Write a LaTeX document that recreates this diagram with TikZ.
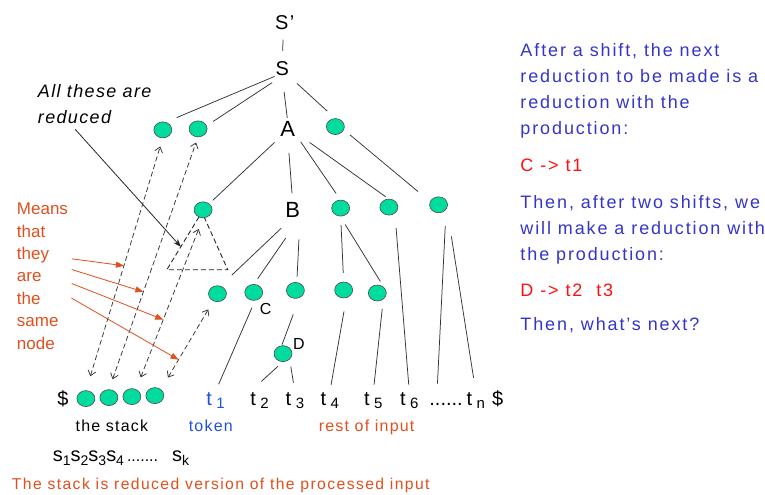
\documentclass[tikz,border=0pt]{standalone}
\usepackage{fontspec}
\setmainfont[LetterSpace=7.5]{Liberation Sans}
\newfontfamily\plainsf{Liberation Sans}
\newfontfamily\capsf[LetterSpace=9]{Liberation Sans}
\newfontfamily\widesf[LetterSpace=10.5]{Liberation Sans}
\usetikzlibrary{arrows.meta,shapes.geometric}
\definecolor{cNode}{HTML}{00DC9E}
\definecolor{cWarm}{HTML}{E0501E}
\definecolor{cNote}{HTML}{3535C8}
\definecolor{cTok}{HTML}{2050E0}
\definecolor{cRule}{HTML}{FF1010}
\newcommand\tsub[1]{t\hspace{4.5pt}\raisebox{-3pt}{\fontsize{15}{15}\selectfont #1}}
\newcommand\ssub[1]{s\raisebox{-3.5pt}{\fontsize{14}{14}\selectfont #1}}

\begin{document}
\begin{tikzpicture}[x=1pt,y=-1pt,every node/.style={outer sep=0pt,inner sep=0pt},
  leaf/.style={ellipse,draw=black!70,fill=cNode,line width=0.6pt,
               minimum width=18pt,minimum height=16pt},
  sym/.style={font=\fontsize{22}{22}\selectfont},
  tok/.style={anchor=base,text height=14pt,text depth=4pt,font=\fontsize{20}{24}\selectfont},
  lbl/.style={font=\fontsize{16}{16}\selectfont},
  branch/.style={draw=black!80,line width=0.75pt},
  link/.style={draw=black!80,line width=0.75pt,dash pattern=on 5pt off 3pt,
               {Straight Barb[length=5pt,width=8pt]}-{Straight Barb[length=5pt,width=8pt]}},
  fold/.style={draw=black!85,line width=0.9pt,dash pattern=on 5pt off 3pt},
  hint/.style={draw=cWarm,line width=0.8pt,-{Triangle[length=8pt,width=6pt]}},
  pointer/.style={draw=black!85,line width=0.8pt,-{Stealth[length=8pt,width=6pt]}}]
\path[fill=white] (0,0) rectangle (765,495);

% parse tree symbols
\node[sym,font=\fontsize{20}{20}\selectfont] (Sp) at (285,22.5) {S’};
\node[sym,font=\fontsize{20}{20}\selectfont] (S) at (282.5,69) {S};
\node[sym] (A) at (288,129.5) {A};
\node[sym] (B) at (293,210) {B};

% tree leaves and stack entries
\foreach \n/\x/\y in {n1/163/130, n2/198.3/129, n3/335.7/126.7, a1/203.3/210,
    a3/341/208.3, a4/389.3/207.3, n3c/439/205, b1/217.7/294, b3/295.7/290.7,
    c1/344/290.3, c2/377.7/293.3, s1/86/399, s2/109/398, s3/132/397, s4/155/396}
  \node[leaf] (\n) at (\x,\y) {};
\node[leaf,label={[lbl,label distance=4pt]-60:C}] (b2) at (254,292.7) {};
\node[leaf,label={[lbl,label distance=2pt]20:D}] (d1) at (283.3,354) {};

% input tokens
\node[tok] (sd) at (63,406) {\$};
\node[tok,text=cTok] (t1) at (215.7,406) {\tsub{1}};
\foreach \n/\x/\i in {t2/259.7/2, t3/295.2/3, t4/330.2/4, t5/373.7/5, t6/409.7/6, tn/476.2/n}
  \node[tok] (\n) at (\x,406) {\tsub{\i}};
\node[tok,font=\plainsf\fontsize{20}{24}\selectfont] (dots) at (446.5,406) {......};
\node[tok] (eos) at (498.3,406) {\$};

% captions under the input
\node[anchor=base,font=\fontsize{16}{16}\selectfont] (stk) at (112,432) {the stack};
\node[anchor=base,font=\fontsize{16}{16}\selectfont,text=cTok] (tokl) at (211,432) {token};
\node[anchor=base,font=\fontsize{16}{16}\selectfont,text=cWarm] (rest) at (367,432) {rest of input};
\node[anchor=base west,font=\plainsf\fontsize{20}{20}\selectfont] (slist) at (53,462)
  {\ssub{1}\ssub{2}\ssub{3}\ssub{4}\hspace{3pt}{\fontsize{16}{16}\selectfont.......}\hspace{14pt}\ssub{k}};
\node[anchor=base west,font=\capsf\fontsize{15.7}{16}\selectfont,text=cWarm] (cap) at (12,490)
  {The stack is reduced version of the processed input};

% notes on the left
\node[anchor=north west,align=left,font=\itshape\fontsize{18}{26}\selectfont] (note) at (38,85)
  {All these are\\reduced};
\node[anchor=north west,align=left,font=\plainsf\fontsize{17}{22.4}\selectfont,text=cWarm] (means)
  at (17,203.3) {Means\\that\\they\\are\\the\\same\\node};

% explanation on the right
\node[anchor=north west,align=left,font=\widesf\fontsize{18}{26}\selectfont,text=cNote] (expl) at (521,43.4)
  {After a shift, the next\\reduction to be made is a\\reduction with the\\production:\\[11pt]
   \textcolor{cRule}{C -> t1}\\[11.4pt]
   Then, after two shifts, we\\will make a reduction with\\the production:\\[9.6pt]
   \textcolor{cRule}{D -> t2\ \ t3}\\[8.4pt]
   Then, what’s next?};

% tree branches: from/to/shorten start/shorten end
\foreach \a/\b/\p/\q in {Sp.-100/S.north/10/11, S.south west/n1.70/1/12, S.south/n2.20/12/8,
    S.south/A.north/16/4, S.south east/n3.north/11/11, A.south west/a1.45/8/5,
    A.south/B.north/16/9, A.-30/a3.north/10/8, A.-20/a4.north/18/4, n3.-20/n3c.160/8/16,
    B.south/b1.70/16/16, B.south east/b2.north/25/7, B.south east/b3.80/22/6,
    a3.south/c1.north/9/9, a3.-95/c2.20/10/10, a4.-45/t6.north/15/7,
    n3c.-30/dots.135/17/8, n3c.-20/tn.north/29/14, b2.-80/t1.north/8/8,
    b3.-60/d1.100/18/1, d1.south/t2.north west/7/15, d1.-40/t3.north/7.5/9,
    c1.-70/t4.north/14/7, c2.-45/t5.north/10/7}
  \draw[branch,shorten <=\p pt,shorten >=\q pt] (\a) -- (\b);

% stack entries are the same nodes as in the tree
\foreach \a/\b/\p/\q/\m/\t in {s1.north/n1.south/15/9/m1/0.494, s2.north/n2.south/11/6/m2/0.387,
    s3.60/a1.south/13/12/m3/0.407, s4.45/b1.-120/14/10/m4/0.337}
  \draw[link,shorten <=\p pt,shorten >=\q pt] (\a) -- coordinate[pos=\t] (\m) (\b);

% reduced subtree
\coordinate (triL) at (167,270);
\coordinate (triR) at (228,270);
\draw[fold] (a1.-120) -- coordinate[pos=0.565] (triIn) (triL) -- (triR) -- (a1.-80);
\draw[pointer,shorten <=7pt] (note.219) -- (triIn);

\foreach \ang/\m in {35/m1, 17/m2, -13/m3, -38/m4}
  \draw[hint,shorten <=4pt] (means.\ang) -- (\m);
\end{tikzpicture}
\end{document}
